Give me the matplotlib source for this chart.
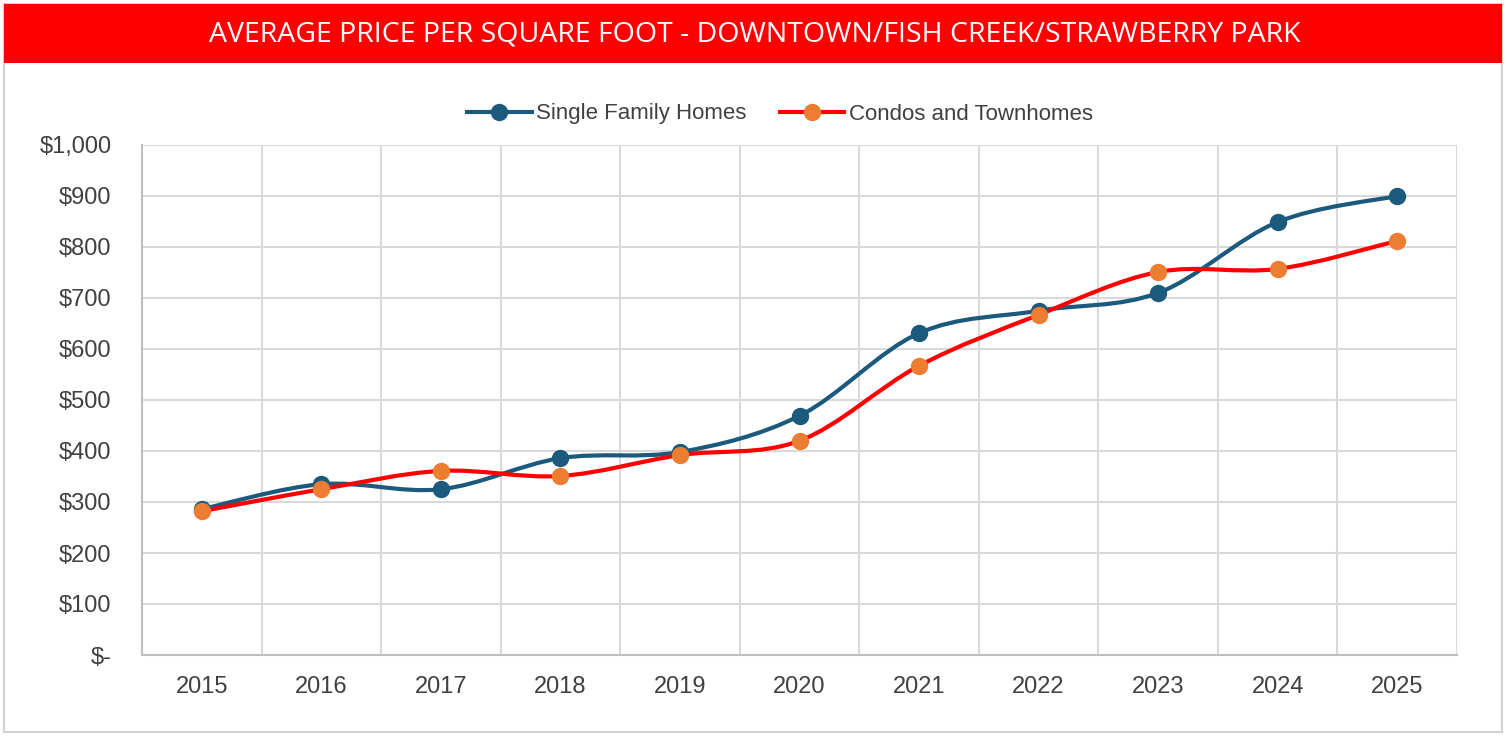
import matplotlib
matplotlib.use("Agg")
import matplotlib.pyplot as plt
import numpy as np
from matplotlib.path import Path
from matplotlib.patches import PathPatch, Rectangle
from matplotlib.lines import Line2D

years = ['2015', '2016', '2017', '2018', '2019', '2020',
         '2021', '2022', '2023', '2024', '2025']
single_family = [286, 335, 325, 386, 398, 469, 631, 675, 710, 849, 900]
condos = [282, 325, 361, 351, 392, 420, 567, 667, 751, 757, 812]
y_ticks = [0, 100, 200, 300, 400, 500, 600, 700, 800, 900, 1000]

SFH_COLOR = '#1B5A7D'
CONDO_LINE = '#FF0000'
CONDO_MARK = '#ED7D31'
TEXT = '#404040'


def smooth_path(xs, ys):
    # Excel-like smoothed line: cubic bezier through each point
    pts = np.column_stack([xs, ys]).astype(float)
    n = len(pts)
    verts = [pts[0]]
    codes = [Path.MOVETO]
    for i in range(n - 1):
        p0 = pts[i - 1] if i > 0 else pts[i]
        p1 = pts[i]
        p2 = pts[i + 1]
        p3 = pts[i + 2] if i + 2 < n else pts[i + 1]
        c1 = p1 + (p2 - p0) / 6.0
        c2 = p2 - (p3 - p1) / 6.0
        verts += [c1, c2, p2]
        codes += [Path.CURVE4] * 3
    return Path(verts, codes)


fig = plt.figure(figsize=(15.07, 7.37), dpi=100)
fig.patch.set_facecolor('white')

W, H = 1507, 737
# outer border
fig.patches.append(Rectangle((4 / W, 5 / H), 1498 / W, 728 / H, transform=fig.transFigure,
                             facecolor='none', edgecolor='#D0D0D0', linewidth=1.5, zorder=-1))
# red title banner
fig.patches.append(Rectangle((4 / W, 1 - 63 / H), 1498 / W, 59 / H, transform=fig.transFigure,
                             facecolor='#FF0000', edgecolor='none', zorder=1))
fig.text(755 / W, 1 - 34 / H, 'AVERAGE PRICE PER SQUARE FOOT - DOWNTOWN/FISH CREEK/STRAWBERRY PARK',
         ha='center', va='center', color='white', fontsize=20.5, family='Open Sans', zorder=2)

ax = fig.add_axes([142 / W, 1 - 655 / H, (1457 - 142) / W, (655 - 145) / H])
ax.set_zorder(3)
x = np.arange(len(years))

for vals, lc in [(single_family, SFH_COLOR), (condos, CONDO_LINE)]:
    ax.add_patch(PathPatch(smooth_path(x, vals), facecolor='none', edgecolor=lc,
                           linewidth=3, capstyle='round', zorder=3))
ax.plot(x, single_family, linestyle='none', marker='o', markersize=11.5,
        markerfacecolor=SFH_COLOR, markeredgecolor=SFH_COLOR, zorder=4)
ax.plot(x, condos, linestyle='none', marker='o', markersize=11.5,
        markerfacecolor=CONDO_MARK, markeredgecolor=CONDO_MARK, zorder=4)

ax.set_xlim(-0.5, len(years) - 0.5)
ax.set_ylim(0, 1000)
ax.set_xticks(x)
ax.set_xticklabels(years)
ax.set_xticks(np.arange(-0.5, len(years), 1), minor=True)
ax.set_yticks(y_ticks)
ax.set_yticklabels(['$-' if v == 0 else '${:,}'.format(v) for v in y_ticks])

ax.grid(True, which='minor', axis='x', color='#D9D9D9', linewidth=1.5)
ax.grid(True, which='major', axis='y', color='#D9D9D9', linewidth=1.5)
ax.set_axisbelow(True)
ax.tick_params(which='both', length=0)
ax.tick_params(axis='x', pad=15, labelsize=17, labelcolor=TEXT)
ax.tick_params(axis='y', pad=22, labelsize=17, labelcolor=TEXT)
for lab in ax.get_xticklabels() + ax.get_yticklabels():
    lab.set_family('Liberation Sans')
for s in ['top', 'right']:
    ax.spines[s].set_visible(False)
for s in ['left', 'bottom']:
    ax.spines[s].set_color('#BFBFBF')
    ax.spines[s].set_linewidth(1.5)

handles = [
    Line2D([], [], color=SFH_COLOR, linewidth=3, marker='o', markersize=11.5,
           markerfacecolor=SFH_COLOR, markeredgecolor=SFH_COLOR),
    Line2D([], [], color=CONDO_LINE, linewidth=3, marker='o', markersize=11.5,
           markerfacecolor=CONDO_MARK, markeredgecolor=CONDO_MARK),
]
leg = fig.legend(handles, ['Single Family Homes', 'Condos and Townhomes'],
                 loc='center', bbox_to_anchor=(780 / W, 1 - 114 / H), ncol=2,
                 frameon=False, handlelength=2.9, handletextpad=0.2, columnspacing=1.5,
                 prop={'family': 'Liberation Sans', 'size': 16})
for t in leg.get_texts():
    t.set_color(TEXT)

fig.savefig('out.png', dpi=100, facecolor='white')
